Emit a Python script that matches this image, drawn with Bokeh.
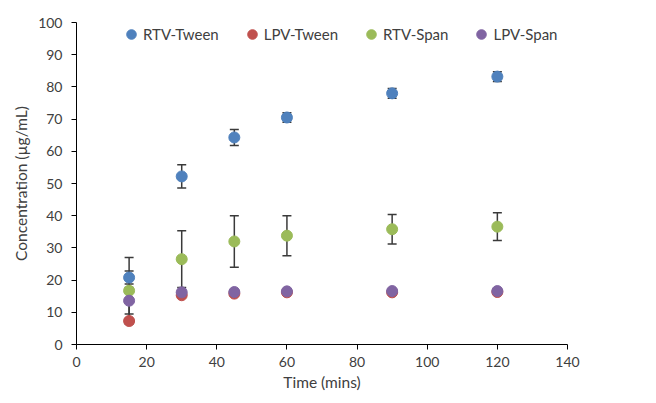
from bokeh.plotting import figure
from bokeh.models import ColumnDataSource, Whisker, Range1d, Legend, LegendItem, FixedTicker, TeeHead
from bokeh.embed import file_html
from bokeh.resources import INLINE

time_mins = [15, 30, 45, 60, 90, 120]

rtv_tween = [20.8, 52.2, 64.3, 70.5, 78.0, 83.2]
rtv_tween_err = [2.0, 3.6, 2.5, 1.5, 1.5, 1.5]

lpv_tween = [7.3, 15.3, 15.8, 16.2, 16.2, 16.3]
lpv_tween_err = [0.6, 0.6, 0.5, 0.5, 0.5, 0.5]

rtv_span = [16.7, 26.5, 32.0, 33.8, 35.8, 36.6]
rtv_span_err = [10.3, 8.8, 8.0, 6.2, 4.6, 4.3]

lpv_span = [13.6, 16.2, 16.3, 16.5, 16.6, 16.6]
lpv_span_err = [4.1, 0.6, 0.5, 0.5, 0.5, 0.5]

series = [
    ("RTV-Tween", rtv_tween, rtv_tween_err, "#4F81BD"),
    ("LPV-Tween", lpv_tween, lpv_tween_err, "#C0504D"),
    ("RTV-Span", rtv_span, rtv_span_err, "#9BBB59"),
    ("LPV-Span", lpv_span, lpv_span_err, "#8064A2"),
]

FONT = "Lato"
TXT = "#404040"

p = figure(frame_width=491, frame_height=322, output_backend="svg", toolbar_location=None,
           x_range=Range1d(0, 140), y_range=Range1d(0, 100),
           min_border_left=76, min_border_right=70, min_border_top=22, min_border_bottom=48)
p.outline_line_color = None
p.xgrid.visible = False
p.ygrid.visible = False

for ax in (p.xaxis[0], p.yaxis[0]):
    ax.axis_line_color = "black"
    ax.major_tick_line_color = "black"
    ax.minor_tick_line_color = None
    ax.major_tick_out = 5
    ax.major_tick_in = 0
    ax.major_label_text_font = FONT
    ax.major_label_text_font_size = "14px"
    ax.major_label_text_color = TXT
    ax.axis_label_text_font = FONT
    ax.axis_label_text_font_size = "15.5px"
    ax.axis_label_text_font_style = "normal"
    ax.axis_label_text_color = TXT

p.xaxis.ticker = FixedTicker(ticks=list(range(0, 141, 20)))
p.yaxis.ticker = FixedTicker(ticks=list(range(0, 101, 10)))
p.xaxis.axis_label = "Time (mins)"
p.yaxis.axis_label = "Concentration (µg/mL)"
p.xaxis.major_label_standoff = 7
p.yaxis.major_label_standoff = 9
p.xaxis.axis_label_standoff = 3
p.yaxis.axis_label_standoff = 5

for name, vals, errs, color in series:
    src = ColumnDataSource(dict(
        x=time_mins, y=vals,
        upper=[v + e for v, e in zip(vals, errs)],
        lower=[v - e for v, e in zip(vals, errs)],
    ))
    w = Whisker(source=src, base="x", upper="upper", lower="lower",
                line_color="#3a3a3a", line_width=1.5,
                upper_head=TeeHead(size=9, line_color="#3a3a3a", line_width=1.5),
                lower_head=TeeHead(size=9, line_color="#3a3a3a", line_width=1.5))
    p.add_layout(w)

renderers = []
for name, vals, errs, color in series:
    src = ColumnDataSource(dict(x=time_mins, y=vals))
    r = p.scatter("x", "y", source=src, size=11, marker="circle",
                  fill_color=color, line_color=color)
    renderers.append((name, r))

legend = Legend(items=[LegendItem(label=n, renderers=[r]) for n, r in renderers],
                orientation="horizontal",
                label_text_font=FONT, label_text_font_size="15px", label_text_color=TXT,
                glyph_width=24, glyph_height=24, label_standoff=0, spacing=21,
                border_line_color=None, background_fill_alpha=0,
                padding=2, margin=0, location=(43, 298))
p.add_layout(legend)

open("out.html", "w").write(file_html(p, INLINE))
